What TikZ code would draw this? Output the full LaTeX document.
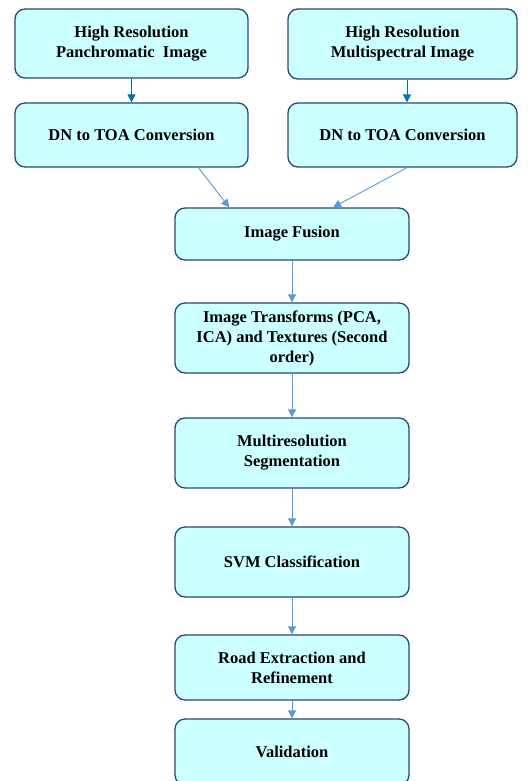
\documentclass[tikz,border=0pt]{standalone}
\usepackage{fontspec}
\setmainfont{Liberation Serif}
\usepackage{tikz}
\usetikzlibrary{arrows.meta}
\definecolor{boxfill}{RGB}{204,255,255}
\definecolor{boxline}{RGB}{40,72,112}
\definecolor{darkarrow}{RGB}{0,112,192}
\definecolor{lightarrow}{RGB}{91,155,213}

\begin{document}
\begin{tikzpicture}[x=1pt, y=-1pt, >={Triangle[length=8pt,width=8pt]},
  every node/.style={font=\fontsize{16.5}{20}\selectfont\bfseries},
  proc/.style={rectangle,draw=boxline,line width=1.3pt,rounded corners=10pt,fill=boxfill,align=center,inner sep=0pt},
  topflow/.style={->,darkarrow,line width=1pt},
  flow/.style={->,lightarrow,line width=0.9pt}]

\useasboundingbox (0,0) rectangle (531,781);

% Input images
\node[proc,minimum width=233pt,minimum height=69pt] at (131.5,43.5) (pan) {High Resolution\\Panchromatic~ Image};
\node[proc,minimum width=229pt,minimum height=70pt] at (402.5,44) (ms) {High Resolution\\Multispectral Image};

% Conversion
\node[proc,minimum width=233pt,minimum height=64pt] at (131.5,135) (dn1) {DN to TOA Conversion};
\node[proc,minimum width=229pt,minimum height=64pt] at (402.5,135) (dn2) {DN to TOA Conversion};

% Main chain
\node[proc,minimum width=234pt,minimum height=52pt] at (292,234) (fusion) {Image Fusion};
\node[proc,minimum width=234pt,minimum height=70pt] at (292,338) (transf) {Image Transforms (PCA,\\ICA) and Textures (Second\\order)};
\node[proc,minimum width=234pt,minimum height=70pt] at (292,453) (seg) {Multiresolution\\Segmentation};
\node[proc,minimum width=234pt,minimum height=70pt] at (292,562) (svm) {SVM Classification};
\node[proc,minimum width=234pt,minimum height=65pt] at (292,667.5) (road) {Road Extraction and\\Refinement};
\node[proc,minimum width=234pt,minimum height=66pt] at (292,752) (valid) {Validation};

% Connections: image to conversion
\draw[topflow] (pan) -- (dn1);
\draw[topflow] (ms.south -| 407,0) -- (dn2.north -| 407,0);

% Conversion to fusion
\draw[flow] (dn1.-26) -- (fusion.157);
\draw[flow] (dn2.-82) -- (fusion.33);

% Down the chain
\foreach \from/\to in {fusion/transf,transf/seg,seg/svm,svm/road,road/valid} {
  \draw[flow] (\from) -- (\to);
}

\end{tikzpicture}
\end{document}
